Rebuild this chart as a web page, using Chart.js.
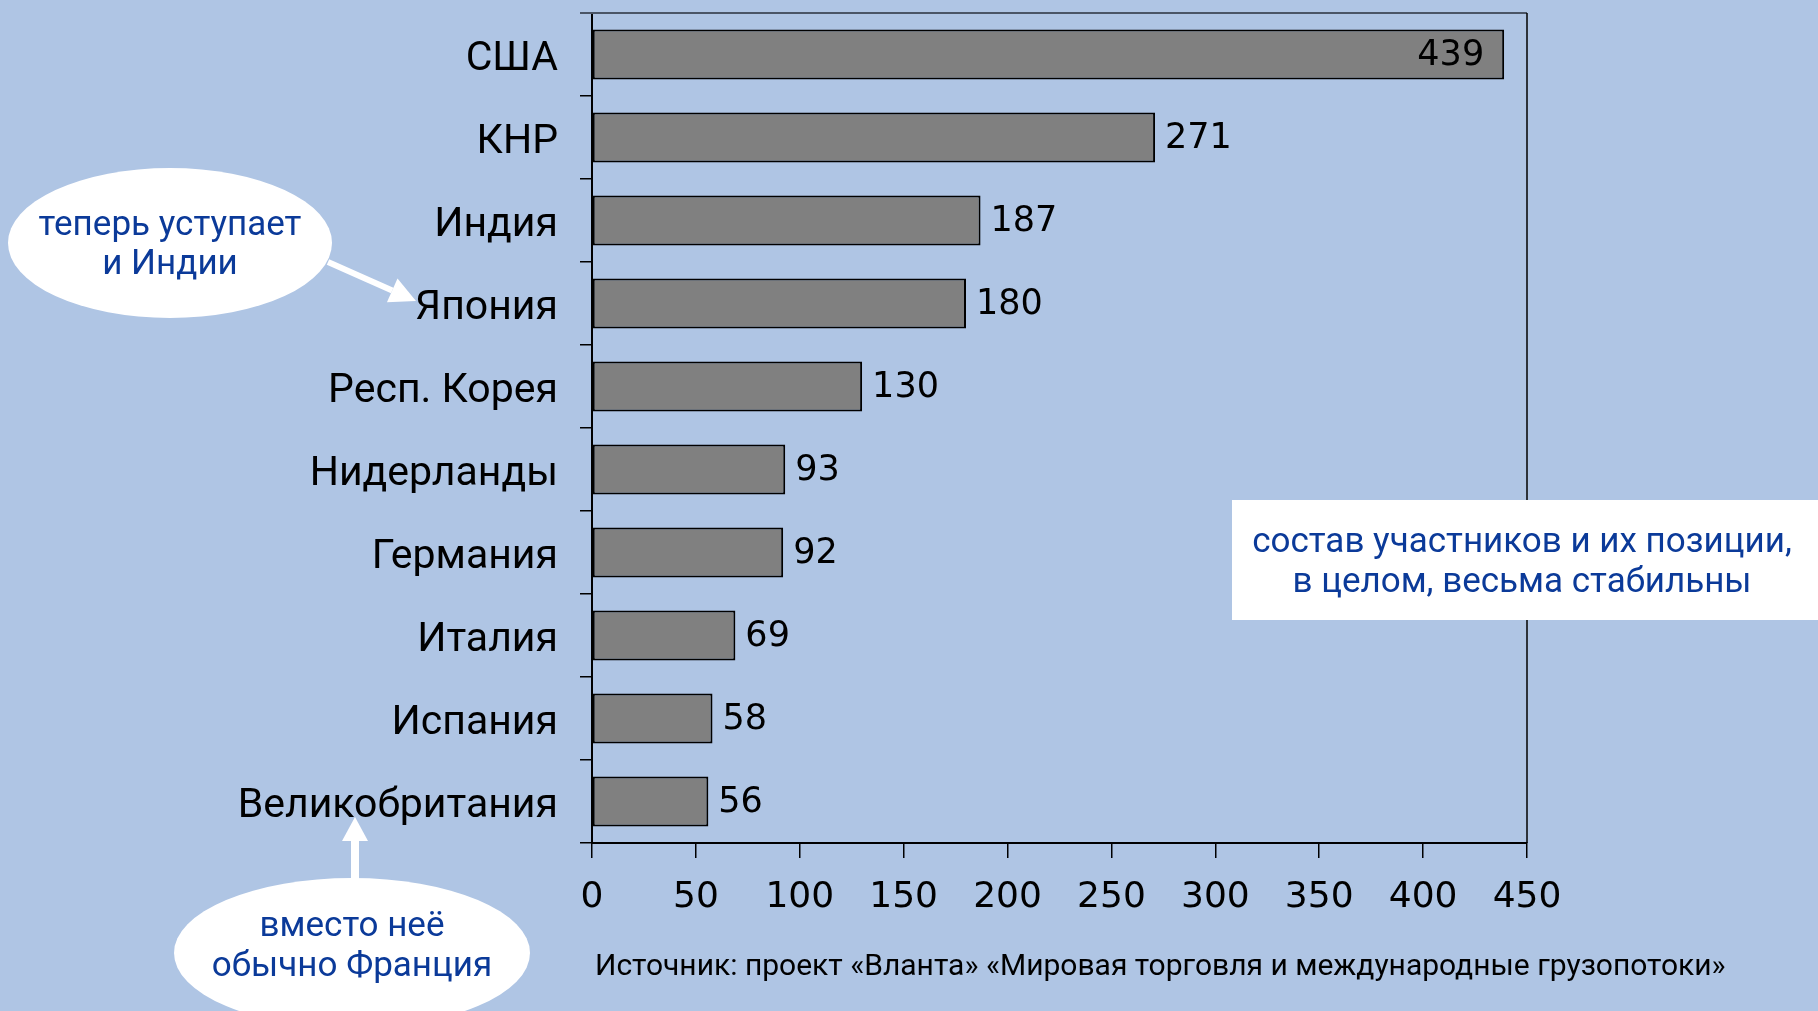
<!DOCTYPE html>
<html>
<head>
<meta charset="utf-8">
<script src="https://cdn.jsdelivr.net/npm/chart.js@4"></script>
<style>
  body { margin: 0; background: #afc5e4; }
  canvas { display: block; }
</style>
</head>
<body>
<canvas id="chart" width="1818" height="1011"></canvas>
<script>
const categories = ["США", "КНР", "Индия", "Япония", "Респ. Корея", "Нидерланды", "Германия", "Италия", "Испания", "Великобритания"];
const values = [439, 271, 187, 180, 130, 93, 92, 69, 58, 56];
const xMin = 0;
const xMax = 450;
const xStep = 50;

const sourceText = "Источник: проект «Вланта» «Мировая торговля и международные грузопотоки»";
const noteBlue = "#0b3a99";

function arrow(ctx, x1, y1, x2, y2, width, headLen, headW) {
  const ang = Math.atan2(y2 - y1, x2 - x1);
  const bx = x2 - headLen * Math.cos(ang);
  const by = y2 - headLen * Math.sin(ang);
  ctx.save();
  ctx.strokeStyle = "#fff";
  ctx.fillStyle = "#fff";
  ctx.lineWidth = width;
  ctx.beginPath();
  ctx.moveTo(x1, y1);
  ctx.lineTo(bx, by);
  ctx.stroke();
  ctx.beginPath();
  ctx.moveTo(x2, y2);
  ctx.lineTo(bx + headW / 2 * Math.sin(ang), by - headW / 2 * Math.cos(ang));
  ctx.lineTo(bx - headW / 2 * Math.sin(ang), by + headW / 2 * Math.cos(ang));
  ctx.closePath();
  ctx.fill();
  ctx.restore();
}

function bubble(ctx, cx, cy, rx, ry, lines, lineY) {
  ctx.save();
  ctx.fillStyle = "#fff";
  ctx.beginPath();
  ctx.ellipse(cx, cy, rx, ry, 0, 0, Math.PI * 2);
  ctx.fill();
  ctx.fillStyle = noteBlue;
  ctx.font = "35px Roboto";
  ctx.textAlign = "center";
  ctx.textBaseline = "middle";
  lines.forEach((t, i) => ctx.fillText(t, cx, lineY[i]));
  ctx.restore();
}

const decorations = {
  id: "decorations",
  afterDraw(chart) {
    const ctx = chart.ctx;
    const area = chart.chartArea;
    const meta = chart.getDatasetMeta(0);

    // frame: top and right
    ctx.save();
    ctx.strokeStyle = "#4a5566";
    ctx.lineWidth = 2;
    ctx.beginPath();
    ctx.moveTo(area.left - 12, area.top);
    ctx.lineTo(area.right, area.top);
    ctx.stroke();
    ctx.strokeStyle = "#000";
    ctx.lineWidth = 1.5;
    ctx.beginPath();
    ctx.moveTo(area.right, area.top);
    ctx.lineTo(area.right, area.bottom);
    ctx.stroke();
    ctx.restore();

    // value labels
    ctx.save();
    ctx.font = "35px 'DejaVu Sans'";
    ctx.fillStyle = "#000";
    ctx.textBaseline = "middle";
    meta.data.forEach((bar, i) => {
      const v = values[i];
      if (i === 0) {
        ctx.textAlign = "right";
        ctx.fillText(String(v), bar.x - 20, bar.y + 1);
      } else {
        ctx.textAlign = "left";
        ctx.fillText(String(v), bar.x + 10, bar.y + 1);
      }
    });
    ctx.restore();

    // source line
    ctx.save();
    ctx.font = "30px Roboto";
    ctx.fillStyle = "#000";
    ctx.textBaseline = "middle";
    ctx.textAlign = "left";
    ctx.fillText(sourceText, 595, 967);
    ctx.restore();

    // notes
    bubble(ctx, 170, 243, 162, 75, ["теперь уступает", "и Индии"], [226, 265]);
    arrow(ctx, 328, 262, 416, 301, 6, 26, 26);

    bubble(ctx, 352, 953, 178, 75, ["вместо неё", "обычно Франция"], [927, 967]);
    arrow(ctx, 355, 880, 355, 817, 8, 24, 26);

    ctx.save();
    ctx.fillStyle = "#fff";
    ctx.fillRect(1232, 500, 586, 120);
    ctx.fillStyle = noteBlue;
    ctx.font = "35px Roboto";
    ctx.textAlign = "center";
    ctx.textBaseline = "middle";
    ctx.fillText("состав участников и их позиции,", 1522, 543);
    ctx.fillText("в целом, весьма стабильны", 1522, 583);
    ctx.restore();
  }
};

new Chart(document.getElementById("chart"), {
  type: "bar",
  data: {
    labels: categories,
    datasets: [{
      data: values,
      backgroundColor: "#808080",
      borderColor: "#000",
      borderWidth: 2,
      borderSkipped: false,
      categoryPercentage: 1,
      barPercentage: 0.605
    }]
  },
  options: {
    indexAxis: "y",
    responsive: false,
    animation: false,
    layout: { padding: { top: 13, right: 291, bottom: 78, left: 0 } },
    plugins: {
      legend: { display: false },
      tooltip: { enabled: false }
    },
    scales: {
      x: {
        min: xMin,
        max: xMax,
        ticks: { stepSize: xStep, color: "#000", font: { family: "DejaVu Sans", size: 36 }, padding: 18, maxRotation: 0 },
        grid: { drawOnChartArea: false, tickLength: 15, color: "#000", lineWidth: 1.5 },
        border: { color: "#000", width: 2 },
        afterFit(s) {
          s.height = 90;
          s.paddingLeft = 0;
          s.paddingRight = 0;
        }
      },
      y: {
        ticks: { color: "#000", font: { family: "Roboto", size: 41 }, padding: 22, labelOffset: 5 },
        grid: { drawOnChartArea: false, tickLength: 12, color: "#000", lineWidth: 1.5, offset: true },
        border: { color: "#000", width: 2 },
        afterFit(s) {
          s.width = 592;
          s.paddingTop = 0;
          s.paddingBottom = 0;
        }
      }
    }
  },
  plugins: [decorations]
});
</script>
</body>
</html>
